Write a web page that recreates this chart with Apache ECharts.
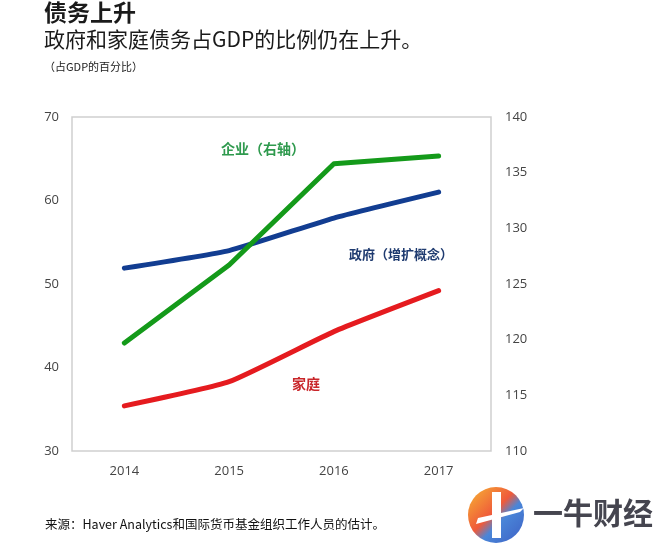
<!DOCTYPE html>
<html>
<head>
<meta charset="utf-8">
<script src="https://cdn.jsdelivr.net/npm/echarts@6/dist/echarts.min.js"></script>
<style>html,body{margin:0;padding:0;background:#fff;}#c{width:664px;height:545px;}</style>
</head>
<body>
<div id="c"></div>
<script>
var years = ['2014', '2015', '2016', '2017'];
var government = [51.9, 54.0, 57.9, 61.0];
var household = [35.4, 38.3, 44.3, 49.2];
var corporate = [119.7, 126.7, 135.8, 136.5];
var leftTicks = [30, 70, 10];
var rightTicks = [110, 140, 5];

var chart = echarts.init(document.getElementById('c'));
var cjk = '"Noto Sans CJK SC", "Noto Sans", sans-serif';
var axisFont = '"Open Sans", "Noto Sans", sans-serif';
chart.setOption({
  animation: false,
  backgroundColor: '#fff',
  grid: { left: 72, right: 173, top: 117, bottom: 94, show: true, borderColor: '#cfcfcf', borderWidth: 1.5, backgroundColor: 'transparent' },
  xAxis: {
    type: 'category', data: years, boundaryGap: true,
    axisLine: { show: false }, axisTick: { show: false },
    axisLabel: { color: '#444', fontSize: 13, fontFamily: axisFont, margin: 14 }
  },
  yAxis: [
    { type: 'value', min: leftTicks[0], max: leftTicks[1], interval: leftTicks[2], position: 'left',
      axisLine: { show: false }, axisTick: { show: false }, splitLine: { show: false },
      axisLabel: { color: '#444', fontSize: 13, fontFamily: axisFont, margin: 13 } },
    { type: 'value', min: rightTicks[0], max: rightTicks[1], interval: rightTicks[2], position: 'right',
      axisLine: { show: false }, axisTick: { show: false }, splitLine: { show: false },
      axisLabel: { color: '#444', fontSize: 13, fontFamily: axisFont, margin: 14 } }
  ],
  series: [
    { name: '政府', type: 'line', data: government, yAxisIndex: 0, symbol: 'none', smooth: 0.15,
      lineStyle: { color: '#123d91', width: 5, cap: 'round', join: 'round' } },
    { name: '家庭', type: 'line', data: household, yAxisIndex: 0, symbol: 'none', smooth: 0.15,
      lineStyle: { color: '#e51b1f', width: 5, cap: 'round', join: 'round' } },
    { name: '企业', type: 'line', data: corporate, yAxisIndex: 1, symbol: 'none', smooth: false,
      lineStyle: { color: '#149a1a', width: 5, cap: 'round', join: 'round' } }
  ],
  graphic: [
    { type: 'text', left: 44, top: 1, style: { text: '债务上升', font: 'bold 23px ' + cjk, fill: '#1a1a1a' } },
    { type: 'text', left: 44, top: 29, style: { text: '政府和家庭债务占GDP的比例仍在上升。', font: '21px ' + cjk, fill: '#1a1a1a' } },
    { type: 'text', left: 44, top: 61, style: { text: '（占GDP的百分比）', font: '11px ' + cjk, fill: '#222' } },
    { type: 'text', left: 221, top: 142, style: { text: '企业（右轴）', font: 'bold 14px ' + cjk, fill: '#2f9a4e' } },
    { type: 'text', left: 349, top: 248, style: { text: '政府（增扩概念）', font: 'bold 13px ' + cjk, fill: '#1f3b70' } },
    { type: 'text', left: 292, top: 377, style: { text: '家庭', font: 'bold 14px ' + cjk, fill: '#c9262a' } },
    { type: 'text', left: 45, top: 518, style: { text: '来源：Haver Analytics和国际货币基金组织工作人员的估计。', font: '12.5px ' + cjk, fill: '#111' } },
    { type: 'circle', shape: { cx: 496, cy: 515, r: 28 },
      style: { fill: new echarts.graphic.LinearGradient(0, 0, 1, 1, [
        { offset: 0, color: '#f7b733' }, { offset: 0.45, color: '#ef5a3a' }, { offset: 0.6, color: '#4a86d8' }, { offset: 1, color: '#3d5fc4' }]) } },
    { type: 'rect', shape: { x: 492, y: 492, width: 9, height: 46 }, style: { fill: '#fff' } },
    { type: 'polygon', shape: { points: [[476, 524], [520, 512], [524, 508], [478, 518]] }, style: { fill: '#fff' } },
    { type: 'text', left: 533, top: 498, style: { text: '一牛财经', font: 'bold 30px ' + cjk, fill: '#45454f' } }
  ]
});
</script>
</body>
</html>
